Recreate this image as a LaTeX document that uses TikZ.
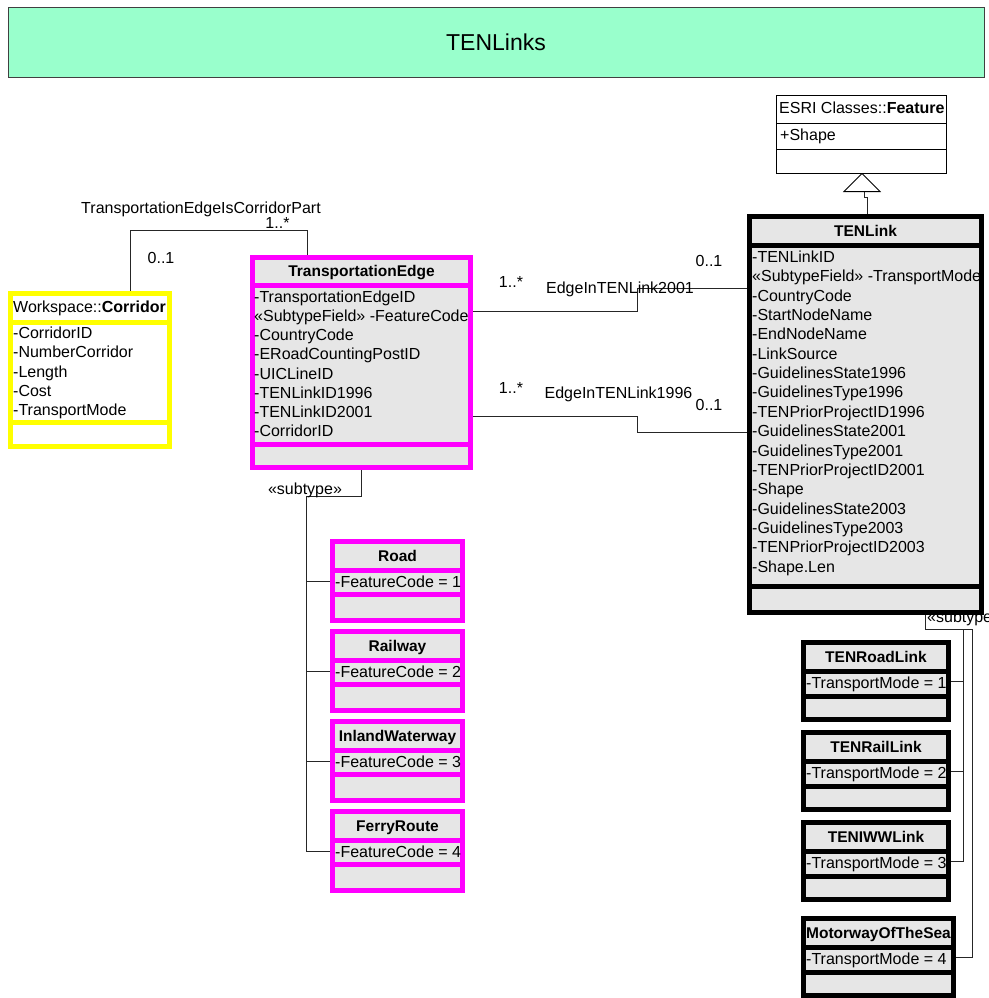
\documentclass[tikz,border=0pt]{standalone}
\usepackage{fontspec}
\setmainfont{Liberation Sans}
\usetikzlibrary{calc}
\definecolor{umlgray}{HTML}{E6E6E6}
\definecolor{umlmag}{HTML}{FF00FF}
\definecolor{umlyel}{HTML}{FFFF00}
\definecolor{titlegreen}{HTML}{99FFCC}
\definecolor{titleborder}{HTML}{404040}
\pgfdeclarelayer{back}
\pgfdeclarelayer{bg}
\pgfsetlayers{back,bg,main}
\newcommand{\umlbox}[6]{%
  \pgfmathsetmacro{\umlbw}{(#5)-(#3)}%
  \pgfmathsetmacro{\umlbh}{(#6)-(#4)}%
  \node[#2, minimum width=\umlbw pt, minimum height=\umlbh pt, inner sep=0pt, outer sep=0pt, anchor=north west] (#1) at ({#3},{#4}) {};%
}
\tikzset{
  attr/.style={anchor=base west, inner sep=0pt, font=\fontsize{16}{19}\selectfont},
  hdr/.style={anchor=base, inner sep=0pt, font=\bfseries\fontsize{15.5}{19}\selectfont},
  lbl/.style={anchor=base, inner sep=0pt, font=\fontsize{16}{19}\selectfont},
  magbox/.style={draw=umlmag, fill=umlgray, line width=5pt},
  blkbox/.style={draw=black, fill=umlgray, line width=5pt},
  yelbox/.style={draw=umlyel, fill=white, line width=5pt},
  thinbox/.style={draw=black, fill=white, line width=1pt},
  sepband/.style={draw=#1, line width=5pt},
  conn/.style={draw=black!85, line width=0.9pt},
}
\begin{document}
\begin{tikzpicture}[x=1pt,y=-1pt]
\useasboundingbox (0,0) rectangle (988,998);
\begin{pgfonlayer}{back}
\fill[white] (0,0) rectangle (988,998);
\end{pgfonlayer}

% title
\node[draw=titleborder, fill=titlegreen, line width=1pt, minimum width=976pt, minimum height=69pt,
      anchor=north west, inner sep=0pt, font=\fontsize{23}{27}\selectfont] (title) at (7.5,7.5) {TENLinks};

% ESRI Feature
\umlbox{feat}{thinbox}{776.5}{95.5}{946.5}{173.5}
\draw[line width=1pt] (776.5,123) -- (946.5,123);
\draw[line width=1pt] (776.5,149) -- (946.5,149);
\node[attr] (featH) at (779,113.5) {ESRI Classes::\textbf{Feature}};
\node[attr] (featA) at (780,140.5) {+Shape};

% TENLink
\umlbox{ten}{blkbox}{749.5}{216.5}{981.5}{612.5}
\draw[sepband=black] (749.5,245.5) -- (981.5,245.5);
\draw[sepband=black] (749.5,586) -- (981.5,586);
\node[hdr] (tenH) at (865.5,236.5) {TENLink};
\foreach \t [count=\i] in {-TENLinkID,«SubtypeField» -TransportMode,-CountryCode,-StartNodeName,-EndNodeName,-LinkSource,-GuidelinesState1996,-GuidelinesType1996,-TENPriorProjectID1996,-GuidelinesState2001,-GuidelinesType2001,-TENPriorProjectID2001,-Shape,-GuidelinesState2003,-GuidelinesType2003,-TENPriorProjectID2003,-Shape.Len}
  \node[attr] (tenA\i) at (752,{262.5+19.35*(\i-1)}) {\t};

% TransportationEdge
\umlbox{te}{magbox}{252.5}{257.5}{470.5}{467.5}
\draw[sepband=umlmag] (252.5,285.5) -- (470.5,285.5);
\draw[sepband=umlmag] (252.5,444.5) -- (470.5,444.5);
\node[hdr] (teH) at (361.5,276.5) {TransportationEdge};
\foreach \t [count=\i] in {-TransportationEdgeID,«SubtypeField» -FeatureCode,-CountryCode,-ERoadCountingPostID,-UICLineID,-TENLinkID1996,-TENLinkID2001,-CorridorID}
  \node[attr] (teA\i) at (254,{302.5+19.14*(\i-1)}) {\t};

% Corridor
\umlbox{cor}{yelbox}{10.5}{293.5}{169.5}{446.5}
\draw[sepband=umlyel] (10.5,322) -- (169.5,322);
\draw[sepband=umlyel] (10.5,422) -- (169.5,422);
\node[attr] (corH) at (13,312.5) {Workspace::\textbf{Corridor}};
\foreach \t [count=\i] in {-CorridorID,-NumberCorridor,-Length,-Cost,-TransportMode}
  \node[attr] (corA\i) at (13,{338.5+19.25*(\i-1)}) {\t};

% subtypes of TransportationEdge
\foreach \nm/\ttl/\k [count=\i] in {road/Road/1,railway/Railway/2,iww/InlandWaterway/3,ferry/FerryRoute/4}{
  \pgfmathsetmacro{\yt}{539+90*(\i-1)}
  \umlbox{\nm}{magbox}{332.5}{\yt+2.5}{462.5}{\yt+81.5}
  \draw[sepband=umlmag] (332.5,\yt+31) -- (462.5,\yt+31);
  \draw[sepband=umlmag] (332.5,\yt+55.5) -- (462.5,\yt+55.5);
  \node[hdr] (\nm H) at (397.5,\yt+22) {\ttl};
  \node[attr] (\nm A) at (335,\yt+48) {-FeatureCode = \k};
}

% subtypes of TENLink
\foreach \nm/\ttl/\k/\yt/\xr in {tenroad/TENRoadLink/1/640/948.5,tenrail/TENRailLink/2/730/948.5,teniww/TENIWWLink/3/820/948.5,motorway/MotorwayOfTheSea/4/916/953.5}{
  \umlbox{\nm}{blkbox}{803.5}{\yt+2.5}{\xr}{\yt+79.5}
  \draw[sepband=black] (803.5,\yt+31.5) -- (\xr,\yt+31.5);
  \draw[sepband=black] (803.5,\yt+56.5) -- (\xr,\yt+56.5);
  \node[hdr] (\nm H) at ({(803.5+\xr)/2},\yt+22.5) {\ttl};
  \node[attr] (\nm A) at (806,\yt+48.5) {-TransportMode = \k};
}

% connectors (behind boxes)
\begin{pgfonlayer}{bg}
  % generalization
  \draw[fill=white, line width=1pt] ([xshift=0.5pt]feat.south) -- ++(-18,18) -- ++(36,0) -- cycle;
  \coordinate (tribase) at (864,192);
  \draw[conn] (tribase) -- (864,197) -- (867,197) -- (ten.north -| 867,0);
  % corridor association
  \draw[conn] ([xshift=119.5pt]cor.north west) -- ++(0,-63.5) -| ([xshift=54.5pt]te.north west);
  \node[lbl] (l1) at (201,213) {TransportationEdgeIsCorridorPart};
  \node[lbl] (l1a) at (277.5,228.5) {1..*};
  \node[lbl] (l1b) at (161,263.5) {0..1};
  % EdgeInTENLink2001
  \draw[conn] ([yshift=-53.5pt]te.north east) -- ++(166.5,0) |- ([yshift=-72pt]ten.north west);
  \node[lbl] (l2) at (620,293.5) {EdgeInTENLink2001};
  \node[lbl] (l2a) at (511,287.5) {1..*};
  \node[lbl] (l2b) at (709,266.5) {0..1};
  % EdgeInTENLink1996
  \draw[conn] ([yshift=-158.5pt]te.north east) -- ++(166.5,0) |- ([yshift=-215.5pt]ten.north west);
  \node[lbl] (l3) at (618.5,398.5) {EdgeInTENLink1996};
  \node[lbl] (l3a) at (511,393.5) {1..*};
  \node[lbl] (l3b) at (709,410.5) {0..1};
  % subtype tree of TransportationEdge
  \coordinate (tejoin) at (306,496);
  \draw[conn] ([xshift=108.5pt]te.south west) |- (tejoin);
  \foreach \nm in {road,railway,iww,ferry} \draw[conn] (tejoin) |- (\nm.west);
  \node[lbl] (l4) at (305,494.5) {«subtype»};
  % subtype tree of TENLink
  \node[attr] (l5) at (927,622.5) {«subtype»};
  \coordinate (tlj1) at (963,629);
  \coordinate (tlj2) at (972,629);
  \draw[conn] ([xshift=175.5pt]ten.south west) |- (tlj2);
  \foreach \nm in {tenroad,tenrail,teniww} \draw[conn] (tlj1) |- (\nm.east);
  \draw[conn] (tlj2) |- (motorway.east);
\end{pgfonlayer}
\end{tikzpicture}
\end{document}
